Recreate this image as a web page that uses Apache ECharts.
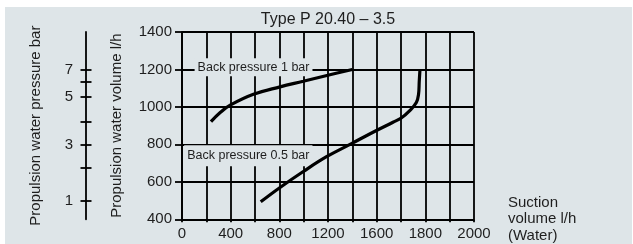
<!DOCTYPE html>
<html>
<head>
<meta charset="utf-8">
<style>
  html, body { margin: 0; padding: 0; background: #fff; }
  #main { width: 633px; height: 244px; }
</style>
<script src="https://cdn.jsdelivr.net/npm/echarts@6/dist/echarts.min.js"></script>
</head>
<body>
<div id="main"></div>
<script>
// x axis tick labels as printed (gridlines are evenly spaced, labels are not)
var xTickLabels = [0, 400, 800, 1200, 1600, 1800, 2000];
var yTicks = [400, 600, 800, 1000, 1200, 1400];

// pressure scale on the far left, and the volume each pressure sits at
var pressureTicks = [1, 2, 3, 4, 5, 6, 7];
var pressureVolume = [500, 676, 798, 921, 1055, 1132, 1200];
var pressureLabeled = [1, 3, 5, 7];

// curves: [suction l/h, propulsion water l/h]
var backPressure1 = [[238, 921], [314, 970], [396, 1009], [587, 1067], [806, 1107], [997, 1137], [1216, 1172], [1400, 1200]];
var backPressure05 = [[647, 493], [800, 567], [997, 655], [1188, 734], [1393, 804], [1598, 874], [1667, 918],
  [1701, 941], [1735, 979], [1763, 1023], [1772, 1067], [1775, 1137], [1778, 1200]];

var bg = '#dee5e8';
var ink = '#1e1e1e';
var font = 'Liberation Sans, Arial, sans-serif';

// printed label value -> even gridline position (each label step = 2 gridlines of 200)
function xPos(v) {
  for (var i = 0; i < xTickLabels.length - 1; i++) {
    if (v <= xTickLabels[i + 1]) {
      return (i + (v - xTickLabels[i]) / (xTickLabels[i + 1] - xTickLabels[i])) * 400;
    }
  }
  return (xTickLabels.length - 1) * 400;
}
function toAxis(list) {
  return list.map(function (p) { return [xPos(p[0]), p[1]]; });
}

var labeledVolumes = pressureLabeled.map(function (p) {
  return pressureVolume[pressureTicks.indexOf(p)];
});

var chart = echarts.init(document.getElementById('main'), null, { renderer: 'canvas' });

var option = {
  backgroundColor: '#fff',
  animation: false,
  textStyle: { fontFamily: font, color: ink },
  graphic: [
    { type: 'rect', z: -10, shape: { x: 5, y: 7, width: 627, height: 237 }, style: { fill: bg } },
    { type: 'text', x: 328, y: 20, style: { text: 'Type P 20.40 – 3.5', font: '16px ' + font, fill: ink, textAlign: 'center', textVerticalAlign: 'middle' } }
  ],
  grid: { left: 182, right: 159, top: 32, bottom: 22, containLabel: false },
  xAxis: {
    type: 'value',
    min: 0,
    max: (xTickLabels.length - 1) * 400,
    interval: 200,
    name: 'Suction\nvolume l/h\n(Water)',
    nameLocation: 'end',
    nameGap: 34,
    nameTextStyle: { fontSize: 15, color: ink, align: 'left', verticalAlign: 'middle', lineHeight: 16.5 },
    axisLine: { show: true, onZero: false, lineStyle: { color: '#000', width: 1.8 } },
    axisTick: { show: true, length: 3, lineStyle: { color: '#000', width: 1.8 } },
    splitLine: { show: true, lineStyle: { color: '#000', width: 1.8 } },
    axisLabel: {
      interval: 1,
      margin: 7,
      fontSize: 15,
      color: ink,
      formatter: function (v) {
        var i = Math.round(v / 400);
        return v % 400 === 0 ? String(xTickLabels[i]) : '';
      }
    }
  },
  yAxis: [
    {
      type: 'value',
      min: yTicks[0],
      max: yTicks[yTicks.length - 1],
      interval: 200,
      name: 'Propulsion water volume l/h',
      nameLocation: 'middle',
      nameGap: 58,
      nameTextStyle: { fontSize: 15, color: ink },
      axisLine: { show: true, lineStyle: { color: '#000', width: 1.8 } },
      axisTick: { show: true, length: 7, lineStyle: { color: '#000', width: 1.8 } },
      splitLine: { show: true, lineStyle: { color: '#000', width: 1.8 } },
      axisLabel: {
        margin: 10,
        fontSize: 15,
        color: ink,
        formatter: function (v) { return String(v); }
      }
    },
    {
      type: 'value',
      position: 'left',
      offset: 96,
      min: yTicks[0],
      max: yTicks[yTicks.length - 1],
      name: 'Propulsion water pressure bar',
      nameLocation: 'middle',
      nameGap: 43,
      nameTextStyle: { fontSize: 15, color: ink },
      axisLine: { show: true, lineStyle: { color: '#000', width: 1.8 } },
      axisTick: { show: true, length: 5.5, customValues: pressureVolume, lineStyle: { color: '#000', width: 1.8 } },
      splitLine: { show: false },
      axisLabel: {
        margin: 13,
        fontSize: 15,
        color: ink,
        customValues: labeledVolumes,
        formatter: function (v) {
          var i = pressureVolume.indexOf(v);
          return i >= 0 ? String(pressureTicks[i]) : '';
        }
      }
    },
    {
      type: 'value',
      position: 'left',
      offset: 96,
      min: yTicks[0],
      max: yTicks[yTicks.length - 1],
      axisLine: { show: false },
      axisTick: { show: true, inside: true, length: 5.5, customValues: pressureVolume, lineStyle: { color: '#000', width: 1.8 } },
      splitLine: { show: false },
      axisLabel: { show: false }
    }
  ],
  series: [
    {
      name: 'Back pressure 1 bar',
      type: 'line',
      smooth: 0.4,
      showSymbol: false,
      lineStyle: { color: '#000', width: 3.2 },
      data: toAxis(backPressure1),
      z: 5,
      markPoint: {
        symbol: 'rect',
        symbolSize: 0,
        silent: true,
        label: {
          show: true,
          position: 'inside',
          formatter: 'Back pressure 1 bar',
          fontSize: 12.5,
          color: ink,
          backgroundColor: bg,
          padding: [3, 3, 2, 3]
        },
        data: [{ coord: [xPos(588), 1212] }]
      }
    },
    {
      name: 'Back pressure 0.5 bar',
      type: 'line',
      smooth: 0.4,
      showSymbol: false,
      lineStyle: { color: '#000', width: 3.2 },
      data: toAxis(backPressure05),
      z: 5,
      markPoint: {
        symbol: 'rect',
        symbolSize: 0,
        silent: true,
        label: {
          show: true,
          position: 'inside',
          formatter: 'Back pressure 0.5 bar',
          fontSize: 12.5,
          color: ink,
          backgroundColor: bg,
          padding: [4, 3, 4, 3]
        },
        data: [{ coord: [xPos(545), 739] }]
      }
    }
  ]
};

chart.setOption(option);
</script>
</body>
</html>
